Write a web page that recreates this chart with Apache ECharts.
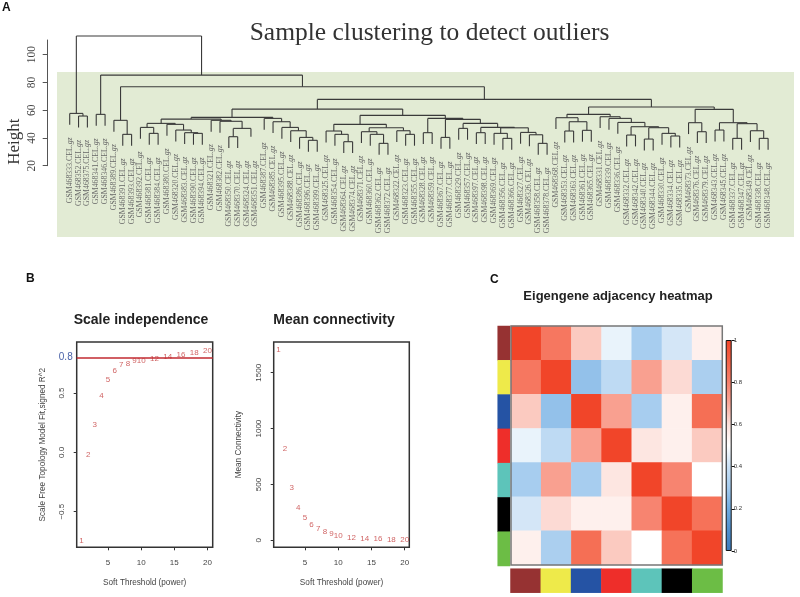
<!DOCTYPE html>
<html><head><meta charset="utf-8">
<script src="https://cdn.jsdelivr.net/npm/echarts@6/dist/echarts.min.js"></script>
<style>html,body{margin:0;padding:0;background:#fff}#c{width:800px;height:597px}</style>
</head><body><div id="c"></div>
<script>
// ---------- data ----------
const sampleIds = [333,352,375,341,346,389,391,393,392,381,384,380,320,383,390,394,321,382,350,370,324,351,387,385,395,388,386,396,399,325,354,364,374,371,360,362,372,322,323,355,328,359,367,377,329,357,397,398,369,356,366,327,326,358,378,368,353,363,361,365,331,339,336,332,342,340,344,330,334,335,373,376,379,343,345,337,347,349,338,348];
const L = 0; // a leaf; clusters are [height, left, right, boxNotVisibleInSource]
const outliers = [57.7, L, [55.8, L, L]];
const pair341 = [57.0, L, L];
const c389 = [52.7, L, [42.6, L, L]];
const t1Left = [50.5, [47.6, L, [43.3, L, L]], [49.8, L, [45.7, L, [43.8, L, [43.3, L, L]]]]];
const t1Right = [52.7, L, [52.0, L, [46.9, [40.9, L, L], [40.9, L, L, true]]]];
const p2 = [54.1, L, [51.7, L, [47.6, L, [45.2, L, [40.4, L, [38.3, L, L]]]]]];
const clusterP = [54.8, [53.6, t1Left, t1Right], p2];
const s1 = [45.0, L, [42.6, L, [37.3, L, L]]];
const q1Right = [47.4, [44.5, L, [42.6, L, [36.1, L, L]]], [45.2, L, [42.6, L, L]]];
const clusterU = [50.5, [46.9, L, L], [47.6, [43.8, L, L], [47.3, [43.3, L, [39.7, L, L]], [44.0, L, [42.3, L, [36.1, L, L]]]]]];
const qRight = [54.1, [43.8, L, L], [53.4, [40.4, L, L], clusterU]];
const clusterQ = [56.3, [49.8, s1, q1Right], qRight];
const vLeft = [57.0, [54.6, L, [51.7, [45.0, L, L], [45.5, L, L]]], [55.3, L, [54.1, L, [51.2, L, [48.1, [42.1, L, L], [47.4, [39.2, L, L], [43.3, L, [41.4, L, L]]]]]]]];
const vRight = [60.6, [51.0, L, [44.5, L, L]], [51.0, [45.7, L, L], [50.3, [39.7, L, L], [45.2, L, [39.7, L, L]]]]];
const dendrogram = [113.45, outliers, [85.3, pair341, [76.9, c389, [67.8, [60.8, clusterP, clusterQ], [62.3, vLeft, vRight]]]]];
const heightTicks = [20, 40, 60, 80, 100];

const powers = [1,2,3,4,5,6,7,8,9,10,12,14,16,18,20];
const fitValues = [-0.741,-0.02,0.233,0.48,0.615,0.69,0.74,0.747,0.77,0.772,0.786,0.803,0.826,0.842,0.859];
const connectivity = [1704,820,468,295,200,140,104,75,57,45,27,18,12,9,6];

const moduleColors = ['#963232','#eeea4a','#2553a4','#ee2e2a','#5dc4ba','#000000','#6cbd45'];
const adjacency = [
 [1,.83,.64,.46,.31,.42,.55],
 [.83,1,.27,.37,.72,.61,.32],
 [.64,.27,1,.72,.31,.55,.86],
 [.46,.37,.72,1,.58,.55,.64],
 [.31,.72,.31,.58,1,.79,.50],
 [.42,.61,.55,.55,.79,1,.85],
 [.55,.32,.86,.64,.50,.85,1]
];
const colorScale = ['#3b7bbd','#4f90cf','#6fabe0','#a3cbee','#c9e0f5','#ffffff','#fce0da','#faa899','#f7806b','#f46347','#f14529'];

// ---------- build ----------
const HANG = 8.2, LABEL_GAP = 9.1;
let leafCursor = 0; const links = [], leafLabels = [];
function walk(node, parentH, hideStem){
  if (node === L){
    const i = leafCursor++;
    if (!hideStem) links.push([i, parentH, i, parentH - HANG]);
    leafLabels.push([i, parentH - HANG - LABEL_GAP, 'GSM468' + sampleIds[i]]);
    return i;
  }
  const h = node[0], noBox = node[3] === true;
  const a = walk(node[1], h, noBox), b = walk(node[2], h, noBox);
  const x = (a + b) / 2;
  if (!noBox) links.push([a, h, b, h]);
  if (parentH !== null) links.push([x, parentH, x, h]);
  return x;
}
walk(dendrogram, null);

const SANS = '"Liberation Sans",Arial,sans-serif', SERIF = '"Liberation Serif",serif';
const GREY = '#444';
function rAxes(grid, xMin, xMax, yMin, yMax, yTicks, yName, yGap, yFmt){
  return {
    x: {type:'value', gridIndex:grid, min:xMin, max:xMax, splitLine:{show:false},
      axisLine:{show:false, onZero:false}, axisTick:{show:true, length:3, customValues:[5,10,15,20], lineStyle:{color:'#333',width:1}},
      axisLabel:{customValues:[5,10,15,20], color:GREY, fontSize:8, fontFamily:SANS, margin:11},
      name:'Soft Threshold (power)', nameLocation:'middle', nameGap:31, nameTextStyle:{color:GREY,fontSize:8.2,fontFamily:SANS}},
    y: {type:'value', gridIndex:grid, min:yMin, max:yMax, splitLine:{show:false},
      axisLine:{show:false, onZero:false}, axisTick:{show:true, length:3, customValues:yTicks, lineStyle:{color:'#333',width:1}},
      axisLabel:{customValues:yTicks, rotate:90, color:GREY, fontSize:8, fontFamily:SANS, margin:11, formatter:yFmt},
      name:yName, nameLocation:'middle', nameGap:yGap, nameTextStyle:{color:GREY,fontSize:8.2,fontFamily:SANS}}
  };
}
const a1 = rAxes(1, 0.27, 20.8, -0.8, 0.93, [-0.5,0,0.5], 'Scale Free Topology Model Fit,signed R^2', 30, v => v.toFixed(1).replace('-', '\u2212'));
const a2 = rAxes(2, 0.3, 20.7, -62, 1775, [0,500,1000,1500], 'Mean Connectivity', 31, v => String(v));
const cats = moduleColors.map((_, i) => String(i));
const hiddenCat = (grid, inverse) => ({type:'category', gridIndex:grid, data:cats, inverse:!!inverse, show:false});
const powerLabel = {show:true, position:'inside', color:'#c43c3c', fontSize:8, fontFamily:SANS, formatter:p => String(p.value[0])};
const letter = {fontFamily:SANS,fontSize:12,fontWeight:'bold',color:'#111'};

const option = {
  animation:false,
  backgroundColor:'#fff',
  graphic:[
    {type:'rect', z:-10, silent:true, shape:{x:57,y:72,width:737,height:165}, style:{fill:'#e2ebd4'}},
    {type:'text', silent:true, x:15, y:141.7, rotation:Math.PI/2, style:{text:'Height', align:'center', verticalAlign:'middle', fill:'#333', font:'17px "Liberation Serif",serif'}}
  ],
  title:[
    {text:'A', left:2, top:2, padding:0, textStyle:letter},
    {text:'B', left:26, top:273, padding:0, textStyle:letter},
    {text:'C', left:490, top:274, padding:0, textStyle:letter},
    {text:'Sample clustering to detect outliers', left:429.5, top:20, padding:0, textAlign:'center', textStyle:{fontFamily:SERIF,fontSize:25.5,fontWeight:'normal',color:'#333'}},
    {text:'Scale independence', left:141, top:313, padding:0, textAlign:'center', textStyle:{fontFamily:SANS,fontSize:14,fontWeight:'bold',color:'#222'}},
    {text:'Mean connectivity', left:334, top:313, padding:0, textAlign:'center', textStyle:{fontFamily:SANS,fontSize:14,fontWeight:'bold',color:'#222'}},
    {text:'Eigengene adjacency heatmap', left:618, top:290, padding:0, textAlign:'center', textStyle:{fontFamily:SANS,fontSize:13,fontWeight:'bold',color:'#222'}}
  ],
  grid:[
    {left:47.7, width:720.4, top:40, height:125.7},
    {left:76.7, width:136, top:342, height:205.3, show:true, borderColor:'#333', borderWidth:1.5, backgroundColor:'transparent'},
    {left:273.7, width:135.6, top:342, height:205.3, show:true, borderColor:'#333', borderWidth:1.5, backgroundColor:'transparent'},
    {left:511, width:211.3, top:326, height:239, show:true, borderColor:'#777', borderWidth:1.5, backgroundColor:'transparent', z:5},
    {left:497.7, width:12.3, top:326, height:240},
    {left:510.5, width:212, top:568.7, height:24},
    {left:725.7, width:6, top:340, height:211}
  ],
  visualMap:[{show:false, min:0, max:1, seriesIndex:5, inRange:{color:colorScale}}],
  xAxis:[
    {type:'value', gridIndex:0, min:-2.49, max:79, show:false},
    a1.x, a2.x,
    hiddenCat(3), {type:'category', gridIndex:4, data:['r'], show:false}, hiddenCat(5),
    {type:'category', gridIndex:6, data:['c'], show:false}
  ],
  yAxis:[
    {type:'value', gridIndex:0, min:20, max:110.6, splitLine:{show:false},
      axisLine:{show:true, onZero:false, lineStyle:{color:'#555',width:1}},
      axisTick:{show:true, length:5, customValues:heightTicks, lineStyle:{color:'#555',width:1}},
      axisLabel:{customValues:heightTicks, rotate:90, color:'#444', fontSize:11.5, fontFamily:SERIF, margin:10}},
    a1.y, a2.y,
    hiddenCat(3,true), hiddenCat(4,true), {type:'category', gridIndex:5, data:['c'], show:false},
    {type:'value', gridIndex:6, min:0, max:1, position:'right', interval:0.2, splitLine:{show:false},
      axisLine:{show:false}, axisTick:{show:true, length:3, lineStyle:{color:'#111'}},
      axisLabel:{color:'#333', fontSize:6, fontFamily:SANS, margin:2}}
  ],
  series:[
    {type:'custom', xAxisIndex:0, yAxisIndex:0, coordinateSystem:'cartesian2d', silent:true, data:links,
      encode:{x:[0,2], y:[1,3]},
      renderItem:(p, api) => {
        const s = api.coord([api.value(0), api.value(1)]), e = api.coord([api.value(2), api.value(3)]);
        return {type:'line', shape:{x1:s[0],y1:s[1],x2:e[0],y2:e[1]}, style:{stroke:'#3a3a3a', lineWidth:1.1}};
      }},
    {type:'custom', xAxisIndex:0, yAxisIndex:0, coordinateSystem:'cartesian2d', silent:true, data:leafLabels,
      encode:{x:0, y:1},
      renderItem:(p, api) => {
        const c = api.coord([api.value(0), api.value(1)]);
        const id = leafLabels[p.dataIndex][2];
        return {type:'text', x:c[0], y:c[1], rotation:Math.PI/2,
          style:{text:'{a|'+id+'.CEL.}{b|gz}', align:'right', verticalAlign:'middle',
            rich:{a:{fontFamily:SERIF,fontSize:7.8,fill:'#666',color:'#666'},
                  b:{fontFamily:SERIF,fontSize:7.8,fontStyle:'italic',fill:'#666',color:'#666'}}}};
      }},
    {type:'scatter', xAxisIndex:1, yAxisIndex:1, symbolSize:0, silent:true, label:powerLabel,
      data:powers.map((p,i)=>[p,fitValues[i]]),
      markLine:{silent:true, symbol:'none', animation:false,
        lineStyle:{color:'#c22a30',width:1.5,type:'solid'},
        label:{show:true, position:'start', formatter:'0.8', color:'#4a62a8', fontSize:10, fontFamily:SANS, distance:4},
        data:[{yAxis:0.8}]}},
    {type:'scatter', xAxisIndex:2, yAxisIndex:2, symbolSize:0, silent:true, label:powerLabel,
      data:powers.map((p,i)=>[p,connectivity[i]])},
    {type:'heatmap', xAxisIndex:4, yAxisIndex:4, silent:true, itemStyle:{borderWidth:0},
      data:moduleColors.map((c,i)=>({value:[0,i,1], itemStyle:{color:c}}))},
    {type:'heatmap', xAxisIndex:3, yAxisIndex:3, silent:true,
      data:adjacency.flatMap((row,r)=>row.map((v,c)=>[c,r,v]))},
    {type:'heatmap', xAxisIndex:5, yAxisIndex:5, silent:true,
      data:moduleColors.map((c,i)=>({value:[i,0,1], itemStyle:{color:c}}))},
    {type:'bar', xAxisIndex:6, yAxisIndex:6, barWidth:'100%', silent:true, data:[1],
      itemStyle:{borderColor:'#111', borderWidth:1, color:new echarts.graphic.LinearGradient(0,1,0,0,colorScale.map((c,i)=>({offset:i/(colorScale.length-1),color:c})))}}
  ]
};
echarts.init(document.getElementById('c'), null, {renderer:'canvas'}).setOption(option);
</script></body></html>
